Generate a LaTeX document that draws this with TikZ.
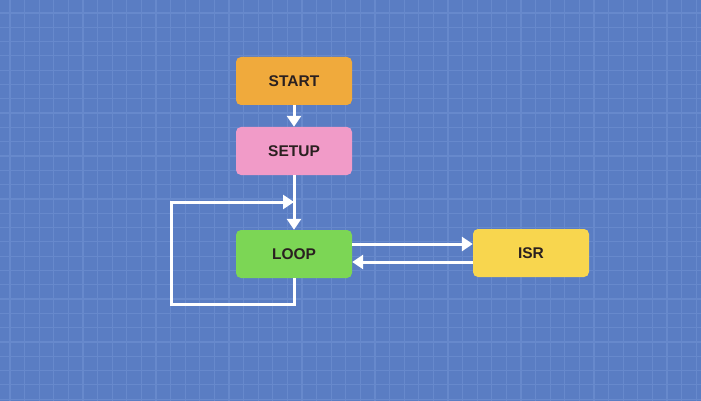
\documentclass[tikz,border=0pt]{standalone}
\usepackage{fontspec}
\setmainfont{Liberation Sans}
\usetikzlibrary{arrows.meta}
\definecolor{board}{HTML}{5A7DC3}
\definecolor{gridline}{HTML}{6789CC}
\definecolor{startcol}{HTML}{F0AA3C}
\definecolor{setupcol}{HTML}{F19BC8}
\definecolor{loopcol}{HTML}{7CD655}
\definecolor{isrcol}{HTML}{F8D64E}
\definecolor{labelcol}{HTML}{2A2020}
\tikzset{
    stage/.style={rounded corners=5pt, minimum width=116pt, minimum height=48pt,
        inner sep=0pt, font=\fontsize{15.5}{17}\selectfont\bfseries, text=labelcol},
    flow/.style={white, line width=3pt, -{Triangle[length=11pt,width=14pt]}}
}
\begin{document}
\begin{tikzpicture}[x=1pt, y=-1pt]
        \fill[board] (0, 0) rectangle (701, 401);
        \useasboundingbox (0, 0) rectangle (701, 401);
        % grid
        \foreach \i in {0,...,47}
            \draw[gridline, line width=1.2pt] (10 + 14.6*\i, 0) -- (10 + 14.6*\i, 401);
        \foreach \j in {0,...,27}
            \draw[gridline, line width=1.2pt] (0, 13 + 14.3*\j) -- (701, 13 + 14.3*\j);
        % stages
        \node[stage, fill = startcol] (start) at (294, 81) {START};
        \node[stage, fill = setupcol] (setup) at (294, 151) {SETUP};
        \node[stage, fill = loopcol] (loop) at (294, 254) {LOOP};
        \node[stage, fill = isrcol] (isr) at (531, 253) {ISR};
        \coordinate (join) at (294, 202);
        \coordinate (back) at (171, 304);
        % arrows
        \draw[flow] (start) -- (setup);
        \draw[flow] (setup) -- (loop);
        \draw[flow, rounded corners=0pt] (loop.south) |- (back) |- (join);
        \draw[flow] ([yshift=10pt]loop.east) -- ([yshift=10pt]loop.east -| isr.west);
        \draw[flow] ([yshift=-9pt]isr.west) -- ([yshift=-9pt]isr.west -| loop.east);
    \end{tikzpicture}
\end{document}
